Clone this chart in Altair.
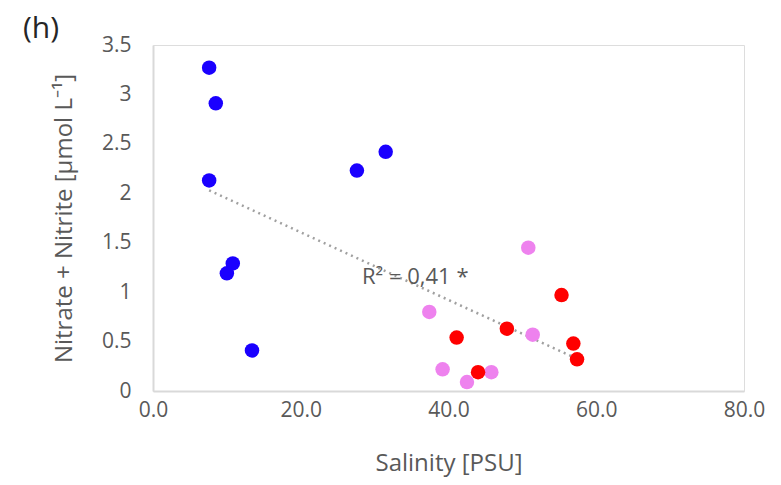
import altair as alt
import pandas as pd

blue_x = [7.6, 8.5, 7.6, 27.6, 31.5, 10.8, 10.0, 13.4]
blue_y = [3.27, 2.91, 2.13, 2.23, 2.42, 1.29, 1.19, 0.41]
violet_x = [50.8, 37.4, 39.2, 42.5, 45.8, 51.4]
violet_y = [1.45, 0.80, 0.22, 0.09, 0.19, 0.57]
red_x = [55.3, 41.1, 47.9, 44.0, 56.9, 57.4]
red_y = [0.97, 0.54, 0.63, 0.19, 0.48, 0.32]

groups = ["blue", "violet", "red"]
colors = ["#1a00ff", "#ee82ee", "#ff0000"]

rows = []
for g, xs, ys in [("blue", blue_x, blue_y), ("violet", violet_x, violet_y), ("red", red_x, red_y)]:
    for a, b in zip(xs, ys):
        rows.append({"sal": a, "no": b, "grp": g})
df = pd.DataFrame(rows)

label_df = pd.DataFrame({"sal": [35.5], "no": [1.15], "txt": ["R² = 0,41 *"]})

FONT = "Open Sans"
GREY = "#595959"

xenc = alt.X("sal:Q", scale=alt.Scale(domain=[0, 80], nice=False),
             axis=alt.Axis(values=[0, 20, 40, 60, 80], format=".1f", title="Salinity [PSU]",
                           grid=False, ticks=False, domainColor="#d9d9d9", domainWidth=2,
                           labelColor=GREY, labelFontSize=21, labelFont=FONT, labelPadding=8,
                           titleColor=GREY, titleFontSize=24, titleFont=FONT, titleFontWeight="normal",
                           titlePadding=31, labelFlush=False))
yenc = alt.Y("no:Q", scale=alt.Scale(domain=[0, 3.5], nice=False),
             axis=alt.Axis(values=[0, 0.5, 1, 1.5, 2, 2.5, 3, 3.5], labelExpr="datum.value + ''",
                           title="Nitrate + Nitrite [µmol L⁻¹]",
                           grid=False, ticks=False, domainColor="#d9d9d9", domainWidth=2,
                           labelColor=GREY, labelFontSize=21, labelFont=FONT, labelPadding=22,
                           titleColor=GREY, titleFontSize=24, titleFont=FONT, titleFontWeight="normal",
                           titlePadding=25, labelFlush=False))

base = alt.Chart(df)

trend = base.transform_regression("sal", "no").mark_line(
    color="#a0a0a0", strokeWidth=2.5, strokeDash=[2, 4]
).encode(x=xenc, y=yenc)

pts = base.mark_circle(size=210, opacity=1).encode(
    x=xenc, y=yenc,
    color=alt.Color("grp:N", scale=alt.Scale(domain=groups, range=colors), legend=None),
)

lbl = alt.Chart(label_df).mark_text(font=FONT, fontSize=22, color=GREY).encode(
    x="sal:Q", y="no:Q", text="txt:N"
)

chart = alt.layer(trend, pts, lbl).properties(
    width=591, height=346,
    title=alt.TitleParams("(h)", anchor="start", frame="group", dx=-130, dy=14, fontSize=30, font=FONT,
                          fontWeight="normal", color="#262626", offset=4),
    autosize=alt.AutoSizeParams(type="none"),
    padding={"left": 153, "top": 45, "right": 37, "bottom": 94},
).configure_view(stroke=None).configure(background="white")

chart.save("out.html", embed_options={"renderer": "svg", "actions": False})
